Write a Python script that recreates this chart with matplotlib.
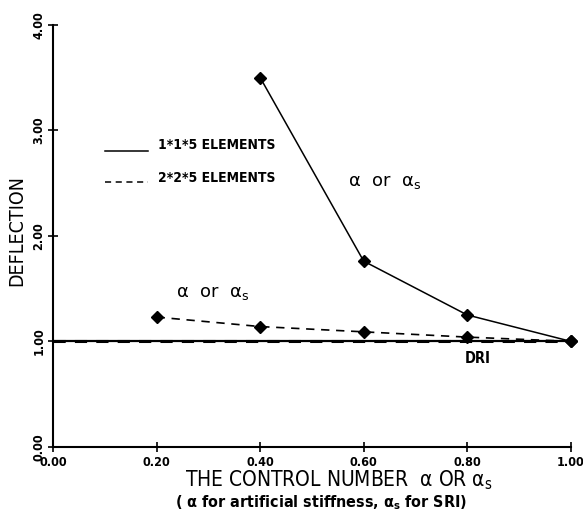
"""
Deflection vs control number for the two meshes
"""
import matplotlib
matplotlib.use("Agg")
import matplotlib.pyplot as plt

plt.rcParams['font.family'] = ['DejaVu Sans']
plt.rcParams['mathtext.fontset'] = 'dejavusans'
plt.rcParams['mathtext.default'] = 'regular'

# control number (alpha or alpha_s)
alpha_coarse = [0.4, 0.6, 0.8, 1.0]
defl_coarse = [3.50, 1.76, 1.25, 1.00]   # 1*1*5 elements
alpha_fine = [0.2, 0.4, 0.6, 0.8, 1.0]
defl_fine = [1.23, 1.14, 1.09, 1.04, 1.00]  # 2*2*5 elements
dri_level = 1.0

xticks = [0.0, 0.2, 0.4, 0.6, 0.8, 1.0]
yticks = [0.0, 1.0, 2.0, 3.0, 4.0]

TICKFONT = dict(fontsize=9, fontweight='bold', fontstretch='condensed')


def main():
    fig = plt.figure(figsize=(5.83, 5.16), dpi=100)
    ax = fig.add_axes([0.091, 0.134, 0.888, 0.818])

    ax.plot(alpha_coarse, defl_coarse, '-', color='black', lw=1.1,
            marker='D', ms=6, clip_on=False, zorder=3)
    ax.plot(alpha_fine, defl_fine, '--', color='black', lw=1.2,
            marker='D', ms=6, dashes=(5, 4), clip_on=False, zorder=3)

    # DRI reference level for both meshes
    ax.plot([0.0, 1.0], [dri_level, dri_level], '-', color='black', lw=1.6)
    ax.plot([0.0, 1.0], [dri_level, dri_level], '--', color='black', lw=2.2,
            dashes=(4, 3))
    ax.text(0.82, 0.84, "DRI", ha='center', va='center', fontsize=10.5,
            fontweight='bold', fontstretch='condensed')

    ax.text(0.57, 2.51, r"$\alpha$  or  $\alpha_s$", ha='left', va='center',
            fontsize=13)
    ax.text(0.237, 1.46, r"$\alpha$  or  $\alpha_s$", ha='left', va='center',
            fontsize=13)

    # hand drawn style key
    ax.plot([0.100, 0.183], [2.80, 2.80], '-', color='black', lw=1.1)
    ax.text(0.203, 2.86, "1*1*5 ELEMENTS", ha='left', va='center',
            fontsize=10, fontweight='bold', fontstretch='condensed')
    ax.plot([0.100, 0.183], [2.51, 2.51], '--', color='black', lw=1.1,
            dashes=(4, 3))
    ax.text(0.203, 2.55, "2*2*5 ELEMENTS", ha='left', va='center',
            fontsize=10, fontweight='bold', fontstretch='condensed')

    ax.set_xlim(0.0, 1.0)
    ax.set_ylim(0.0, 4.0)
    ax.set_xticks(xticks)
    ax.set_yticks(yticks)
    ax.set_xticklabels([f"{v:.2f}" for v in xticks], **TICKFONT)
    ax.set_yticklabels([f"{v:.2f}" for v in yticks], rotation=90,
                       va='center', **TICKFONT)
    ax.tick_params(direction='inout', length=7, width=1.2)
    ax.tick_params(axis='x', pad=3)
    ax.tick_params(axis='y', pad=2)
    for side in ['top', 'right']:
        ax.spines[side].set_visible(False)
    for side in ['left', 'bottom']:
        ax.spines[side].set_linewidth(1.5)

    ax.set_ylabel("DEFLECTION", fontsize=14, fontstretch='condensed')
    ax.yaxis.set_label_coords(-0.052, 0.513)
    ax.set_xlabel(r"THE CONTROL NUMBER  $\alpha$ OR $\alpha_s$", fontsize=15,
                  fontstretch='condensed')
    ax.xaxis.set_label_coords(0.553, -0.050)
    fig.text(0.55, 0.026,
             r"( $\alpha$ for artificial stiffness, $\alpha_s$ for SRI)",
             ha='center', va='center', fontsize=11.5, fontweight='bold',
             fontstretch='condensed')

    fig.savefig("out.png", dpi=100)
    plt.close(fig)


if __name__ == '__main__':
    main()
